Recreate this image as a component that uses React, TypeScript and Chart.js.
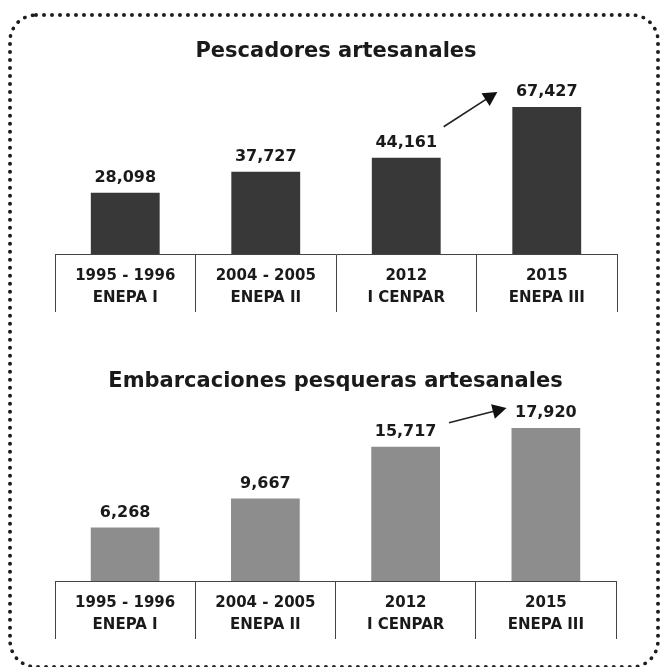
import React, { useEffect, useRef } from 'react';
import { Chart, registerables } from 'chart.js';

Chart.register(...registerables);

const periods = ['1995 - 1996', '2004 - 2005', '2012', '2015'];
const surveys = ['ENEPA I', 'ENEPA II', 'I CENPAR', 'ENEPA III'];
const fishers = [28098, 37727, 44161, 67427];
const boats = [6268, 9667, 15717, 17920];
const titleFishers = 'Pescadores artesanales';
const titleBoats = 'Embarcaciones pesqueras artesanales';

const FONT = "'DejaVu Sans', Verdana, sans-serif";
const INK = '#1a1a1a';

const valueLabels = {
  id: 'valueLabels',
  afterDatasetsDraw(chart: any) {
    const ctx = chart.ctx;
    const meta = chart.getDatasetMeta(0);
    const data = chart.data.datasets[0].data as number[];
    ctx.save();
    ctx.font = `bold 16px ${FONT}`;
    ctx.fillStyle = INK;
    ctx.textAlign = 'center';
    ctx.textBaseline = 'middle';
    meta.data.forEach((bar: any, i: number) => {
      ctx.fillText(data[i].toLocaleString('en-US'), bar.x, bar.y - 15);
    });
    ctx.restore();
  },
};

const trendArrow = {
  id: 'trendArrow',
  afterDatasetsDraw(chart: any, _args: any, opts: any) {
    const meta = chart.getDatasetMeta(0);
    const a = meta.data[2];
    const b = meta.data[3];
    if (!a || !b) return;
    const x0 = a.x + a.width / 2 + opts.sx;
    const y0 = a.y + opts.sy;
    const x1 = b.x - b.width / 2 + opts.ex;
    const y1 = b.y + opts.ey;
    const ang = Math.atan2(y1 - y0, x1 - x0);
    const ctx = chart.ctx;
    ctx.save();
    ctx.strokeStyle = '#222';
    ctx.fillStyle = '#111';
    ctx.lineWidth = 1.6;
    ctx.beginPath();
    ctx.moveTo(x0, y0);
    ctx.lineTo(x1 - Math.cos(ang) * 8, y1 - Math.sin(ang) * 8);
    ctx.stroke();
    const len = 14;
    const half = 7.5;
    const bx = x1 - Math.cos(ang) * len;
    const by = y1 - Math.sin(ang) * len;
    ctx.beginPath();
    ctx.moveTo(x1, y1);
    ctx.lineTo(bx + Math.sin(ang) * half, by - Math.cos(ang) * half);
    ctx.lineTo(bx - Math.sin(ang) * half, by + Math.cos(ang) * half);
    ctx.closePath();
    ctx.fill();
    ctx.restore();
  },
};

function makeConfig(
  title: string,
  values: number[],
  color: string,
  yMax: number,
  pad: { left: number; right: number; top: number; bottom: number },
  titlePad: { top: number; bottom: number },
  arrow: { sx: number; sy: number; ex: number; ey: number }
): any {
  return {
    type: 'bar',
    data: {
      labels: periods.map((p, i) => [p, surveys[i]]),
      datasets: [
        {
          data: values,
          backgroundColor: color,
          borderWidth: 0,
          barPercentage: 0.49,
          categoryPercentage: 1,
        },
      ],
    },
    options: {
      animation: false,
      responsive: false,
      maintainAspectRatio: false,
      layout: { padding: pad },
      plugins: {
        legend: { display: false },
        tooltip: { enabled: false },
        title: {
          display: true,
          text: title,
          color: INK,
          font: { family: FONT, size: 21, weight: 'bold', lineHeight: 1.2 },
          padding: titlePad,
        },
        trendArrow: arrow,
      },
      scales: {
        x: {
          offset: true,
          afterFit: (scale: any) => {
            scale.height = 55;
          },
          border: { display: true, color: '#444', width: 1 },
          grid: {
            offset: true,
            drawOnChartArea: false,
            drawTicks: true,
            tickLength: 58,
            color: '#444',
            lineWidth: 1,
          },
          ticks: {
            autoSkip: false,
            maxRotation: 0,
            minRotation: 0,
            padding: -47,
            color: INK,
            font: { family: FONT, size: 15, weight: 'bold', lineHeight: 1.47 },
          },
        },
        y: {
          display: false,
          min: 0,
          max: yMax,
        },
      },
    },
    plugins: [valueLabels, trendArrow],
  };
}

function BarPanel(props: { config: any; top: number; height: number }) {
  const ref = useRef<HTMLCanvasElement | null>(null);
  useEffect(() => {
    if (!ref.current) return;
    const chart = new Chart(ref.current, props.config);
    return () => chart.destroy();
  }, []);
  return (
    <canvas
      ref={ref}
      width={662}
      height={props.height}
      style={{ position: 'absolute', left: 0, top: props.top, width: 662, height: props.height }}
    />
  );
}

export default function App() {
  const topCfg = makeConfig(
    titleFishers,
    fishers,
    '#383838',
    80000,
    { left: 55, right: 45, top: 28, bottom: 21 },
    { top: 11.4, bottom: 15 },
    { sx: 3, sy: -31, ex: -15, ey: -15 }
  );
  const botCfg = makeConfig(
    titleBoats,
    boats,
    '#8d8d8d',
    21000,
    { left: 55, right: 46, top: 28, bottom: 31 },
    { top: 11.4, bottom: 7.1 },
    { sx: 9, sy: -24, ex: -5, ey: -20 }
  );
  return (
    <div style={{ position: 'absolute', left: 0, top: 0, width: 662, height: 667, background: '#fff', overflow: 'hidden' }}>
      <div
        style={{
          position: 'absolute',
          left: 8,
          top: 13,
          width: 652,
          height: 656,
          boxSizing: 'border-box',
          border: '4px dotted #1e1e1e',
          borderRadius: 28,
        }}
      />
      <BarPanel config={topCfg} top={0} height={330} />
      <BarPanel config={botCfg} top={330} height={337} />
    </div>
  );
}
